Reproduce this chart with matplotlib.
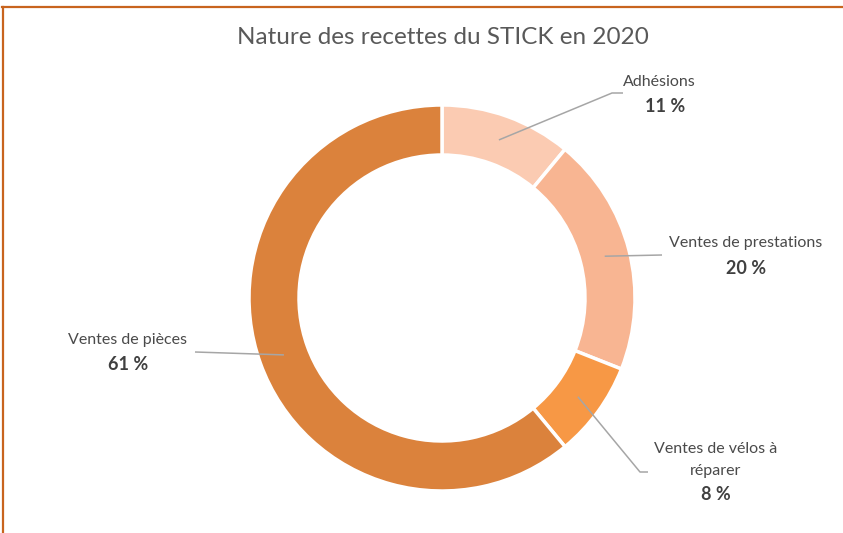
import numpy as np
import matplotlib
matplotlib.use("Agg")
import matplotlib.pyplot as plt

categories = ["Adhésions", "Ventes de prestations", "Ventes de vélos à\nréparer", "Ventes de pièces"]
values = [11, 20, 8, 61]
pct_labels = ["11 %", "20 %", "8 %", "61 %"]
colors = ["#FBCBB2", "#F8B592", "#F79845", "#DB823C"]

W, H = 843, 533
fig = plt.figure(figsize=(W / 100, H / 100), dpi=100)
ax = fig.add_axes([0, 0, 1, 1])
ax.set_xlim(0, W)
ax.set_ylim(0, H)
ax.set_aspect("equal")
ax.axis("off")

font = ["Lato", "DejaVu Sans"]

cx, cy, R, ring = 442, H - 298, 193, 50
wedges, _ = ax.pie(values, colors=colors, startangle=90, counterclock=False,
                   center=(cx, cy), radius=R, frame=True,
                   wedgeprops=dict(width=ring, edgecolor="white", linewidth=2.5))
ax.set_xlim(0, W)
ax.set_ylim(0, H)
ax.axis("off")

# label layout (top-based pixel coordinates)
name_pos = [(659, 82), (746, 243), (716, 460), (127, 340)]
pct_pos = [(665, 107), (746, 268), (716, 495), (128, 365)]
elbows = [[(612, 93), (623, 93)], [(662, 255)], [(640, 472), (648, 472)], [(195, 352)]]

cum = np.cumsum([0] + values)
for i, (w, v) in enumerate(zip(wedges, values)):
    mid = np.deg2rad(90 - 360 * (cum[i] + v / 2) / 100)
    r = R - ring / 2
    p0 = (cx + r * np.cos(mid), cy + r * np.sin(mid))
    xs = [p0[0]] + [e[0] for e in elbows[i]]
    ys = [p0[1]] + [H - e[1] for e in elbows[i]]
    ax.plot(xs[::-1], ys[::-1], color="#A6A6A6", lw=1.1, solid_capstyle="butt")
    nx, ny = name_pos[i]
    ax.text(nx, H - ny, categories[i], ha="center", va="center", fontsize=11.5,
            color="#4a4a4a", family=font, linespacing=1.75)
    px, py = pct_pos[i]
    ax.text(px, H - py, pct_labels[i], ha="center", va="center", fontsize=13,
            color="#404040", family=font, fontweight="bold")

fig.text(443 / W, 1 - 37 / H, "Nature des recettes du STICK en 2020", ha="center",
         va="center", fontsize=17.5, color="#595959", family=font)

# frame border (top and left)
bc = "#C8641E"
fig.add_artist(plt.Line2D([2 / W, 1], [1 - 6.5 / H, 1 - 6.5 / H], transform=fig.transFigure, color=bc, lw=1.6))
fig.add_artist(plt.Line2D([2.5 / W, 2.5 / W], [0, 1 - 6.5 / H], transform=fig.transFigure, color=bc, lw=1.6))

fig.savefig("out.png", dpi=100, facecolor="white")
